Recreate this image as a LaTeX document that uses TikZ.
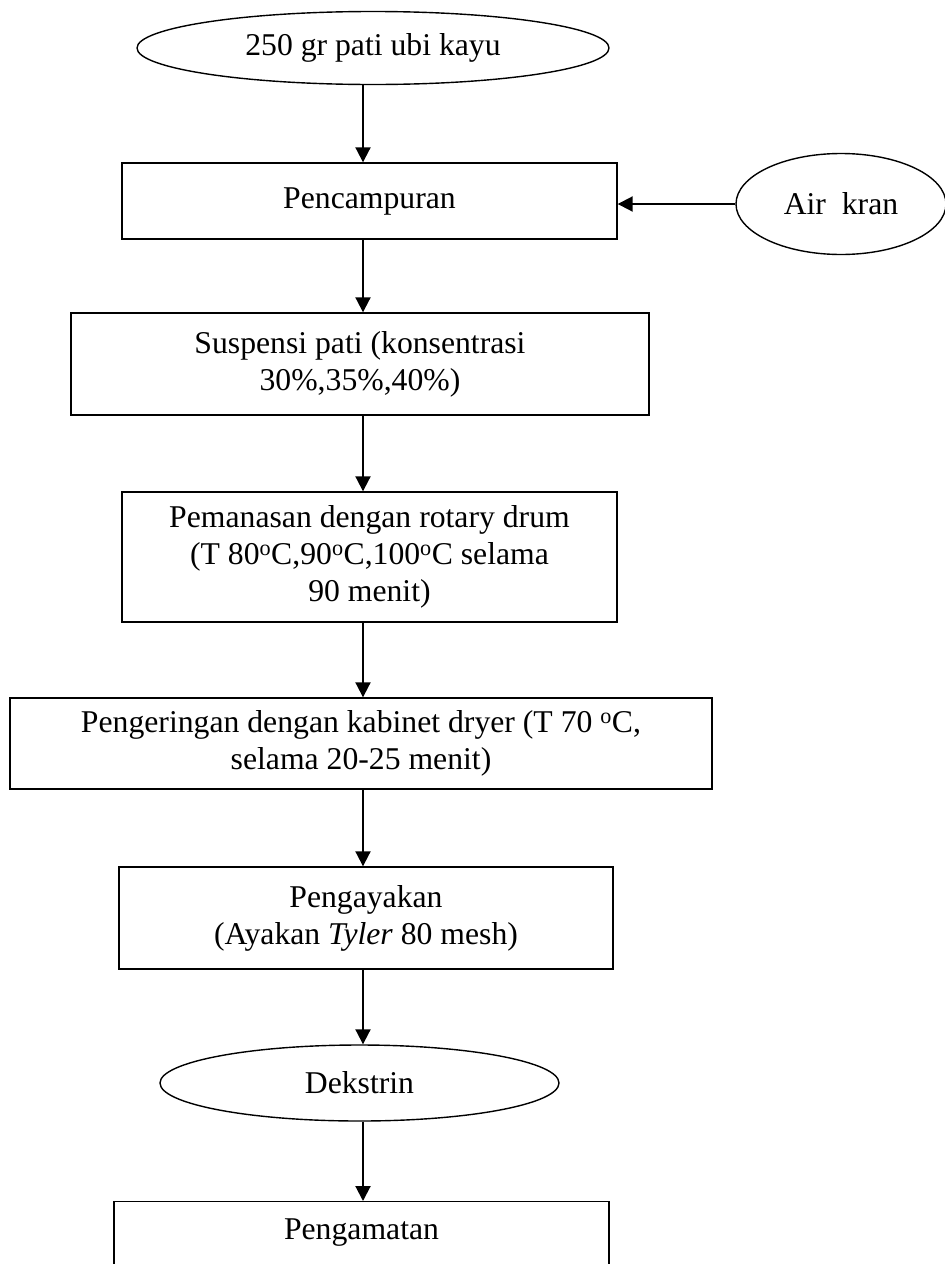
\documentclass[tikz,border=0pt]{standalone}
\usepackage{fontspec}
\setmainfont{Liberation Serif}
\usetikzlibrary{shapes.geometric,arrows.meta}

\begin{document}
\begin{tikzpicture}[x=1pt,y=-1pt,
    font=\fontsize{31.7}{37}\selectfont,
    proses/.style={draw,line width=1.4pt,rectangle,inner sep=0pt,align=center},
    bahan/.style={draw,line width=1.4pt,ellipse,inner sep=0pt,align=center},
    panah/.style={-{Triangle[length=15pt,width=15pt]},line width=2pt}]
    \useasboundingbox (0,0) rectangle (945,1264);
    \coordinate (sumbu) at (363,0);
    \node[bahan,minimum width=472pt,minimum height=73pt] (pati) at (373,48) {250 gr pati ubi kayu};
    \node[proses,minimum width=495pt,minimum height=76pt] (campur) at (369.5,201) {Pencampuran};
    \node[bahan,minimum width=210pt,minimum height=101pt] (air) at (841,204) {Air~ kran};
    \node[proses,minimum width=578pt,minimum height=102pt] (suspensi) at (360,364) {Suspensi pati (konsentrasi\\30\%,35\%,40\%)};
    \node[proses,minimum width=495pt,minimum height=130pt] (panas) at (369.5,557) {Pemanasan dengan rotary drum\\(T 80\textsuperscript{o}C,90\textsuperscript{o}C,100\textsuperscript{o}C selama\\90 menit)};
    \node[proses,minimum width=702pt,minimum height=91pt] (kering) at (361,743.5) {Pengeringan dengan kabinet dryer (T 70 \textsuperscript{o}C,\\selama 20-25 menit)};
    \node[proses,minimum width=494pt,minimum height=102pt] (ayak) at (366,918) {Pengayakan\\(Ayakan \textit{Tyler} 80 mesh)};
    \node[bahan,minimum width=399pt,minimum height=76pt] (dekstrin) at (359.5,1083) {Dekstrin};
    \node[proses,minimum width=495pt,text height=38pt,text depth=40pt,anchor=north] (amat) at (361.5,1201) {Pengamatan};
    \draw[panah] (pati.south -| sumbu) -- (campur.north -| sumbu);
    \draw[panah] (air.west) -- (campur.east |- air.west);
    \draw[panah] (campur.south -| sumbu) -- (suspensi.north -| sumbu);
    \draw[panah] (suspensi.south -| sumbu) -- (panas.north -| sumbu);
    \draw[panah] (panas.south -| sumbu) -- (kering.north -| sumbu);
    \draw[panah] (kering.south -| sumbu) -- (ayak.north -| sumbu);
    \draw[panah] (ayak.south -| sumbu) -- (dekstrin.north -| sumbu);
    \draw[panah] (dekstrin.south -| sumbu) -- (amat.north -| sumbu);
\end{tikzpicture}
\end{document}
